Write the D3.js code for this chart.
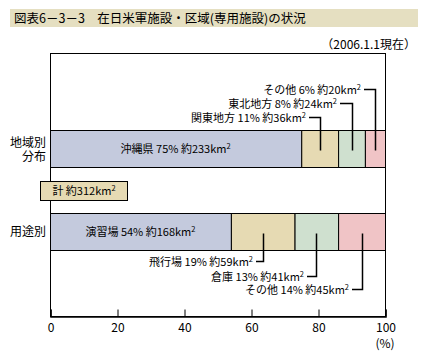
<!DOCTYPE html>
<html>
<head>
<meta charset="utf-8">
<script src="https://cdn.jsdelivr.net/npm/d3@7"></script>
<style>
  body { margin: 0; background: #fff; }
  text { font-family: "Noto Sans CJK JP", sans-serif; fill: #000; }
</style>
</head>
<body>
<div id="chart"></div>
<script>
const rows = ['地域別', '用途別']
const regionNames = ['沖縄県', '関東地方', '東北地方', 'その他']
const regionPct = [75, 11, 8, 6]
const regionArea = [233, 36, 24, 20]
const useNames = ['演習場', '飛行場', '倉庫', 'その他']
const usePct = [54, 19, 13, 14]
const useArea = [168, 59, 41, 45]
const ticks = [0, 20, 40, 60, 80, 100]
const colors = ['#c4cadd', '#e6dab3', '#cfe0cf', '#f0c4c6']

const width = 428
const height = 358

const svg = d3
  .select('#chart')
  .append('svg')
  .attr('width', width)
  .attr('height', height)

// title bar
svg.append('rect')
  .attr('x', 10).attr('y', 9)
  .attr('width', 408).attr('height', 18)
  .attr('fill', '#e5dfc1')
svg.append('text')
  .attr('x', 14).attr('y', 23)
  .attr('font-size', 12.5)
  .text('図表6－3－3　在日米軍施設・区域(専用施設)の状況')

svg.append('text')
  .attr('x', 416).attr('y', 49)
  .attr('text-anchor', 'end')
  .attr('font-size', 12)
  .text('（2006.1.1現在）')

const x = d3.scaleLinear().domain([0, 100]).range([50, 385])
const y = d3.scaleOrdinal().domain(rows).range([130, 213])
const barH = 37

// frame
svg.append('rect')
  .attr('x', x(0) + 0.5).attr('y', 53.5)
  .attr('width', x(100) - x(0)).attr('height', 316 - 53)
  .attr('fill', 'none')
  .attr('stroke', '#000')

function stack(pcts) {
  let acc = 0
  return pcts.map(p => {
    const s = { x0: acc, x1: acc + p }
    acc += p
    return s
  })
}

const sup = (sel, str) => {
  sel.append('tspan').text(str)
  sel.append('tspan').attr('font-size', 7.5).attr('dy', -4).text('2')
}

function drawBar(row, names, pcts, areas, leaders) {
  const segs = stack(pcts)
  const top = y(row)
  svg.append('g')
    .selectAll('rect')
    .data(segs)
    .enter()
    .append('rect')
    .attr('x', d => x(d.x0) + 0.5)
    .attr('y', top + 0.5)
    .attr('width', d => x(d.x1) - x(d.x0))
    .attr('height', barH)
    .attr('fill', (d, i) => colors[i])
    .attr('stroke', '#000')

  // first segment label inside the bar
  const t0 = svg.append('text')
    .attr('x', (x(segs[0].x0) + x(segs[0].x1)) / 2)
    .attr('y', top + barH / 2 + 4)
    .attr('text-anchor', 'middle')
    .attr('font-size', 11)
  sup(t0, `${names[0]} ${pcts[0]}% 約${areas[0]}km`)

  // leader labels for the rest
  segs.slice(1).forEach((s, k) => {
    const i = k + 1
    const cx = Math.round((x(s.x0) + x(s.x1)) / 2) + 0.5
    const ly = leaders.y[k]
    const tx = leaders.endX[k]
    svg.append('path')
      .attr('d', `M${tx},${ly}H${cx}V${top + barH / 2 + 2}`)
      .attr('fill', 'none')
      .attr('stroke', '#000')
      .attr('stroke-width', 1.5)
    const t = svg.append('text')
      .attr('x', tx - 3)
      .attr('y', ly + 4)
      .attr('text-anchor', 'end')
      .attr('font-size', 11)
    sup(t, `${names[i]} ${pcts[i]}% 約${areas[i]}km`)
  })
}

drawBar('地域別', regionNames, regionPct, regionArea,
  { y: [117.5, 103.5, 89.5], endX: [309, 340, 364] })

drawBar('用途別', useNames, usePct, useArea,
  { y: [261.5, 276.5, 289.5], endX: [256, 307, 352] })

// row labels
svg.append('text').attr('x', 46).attr('y', 147).attr('text-anchor', 'end')
  .attr('font-size', 12).text('地域別')
svg.append('text').attr('x', 46).attr('y', 161).attr('text-anchor', 'end')
  .attr('font-size', 12).text('分布')
svg.append('text').attr('x', 46).attr('y', 236).attr('text-anchor', 'end')
  .attr('font-size', 12).text('用途別')

// total box
svg.append('rect')
  .attr('x', 40.5).attr('y', 181.5)
  .attr('width', 87).attr('height', 19)
  .attr('fill', colors[1])
  .attr('stroke', '#000')
const tt = svg.append('text')
  .attr('x', 84).attr('y', 195)
  .attr('text-anchor', 'middle')
  .attr('font-size', 11)
sup(tt, '計 約312km')

// axis
const axis = d3.axisBottom(x).tickValues(ticks).tickSize(-7).tickPadding(7)
const ax = svg.append('g')
  .attr('transform', 'translate(0.5,316.5)')
  .call(axis)
ax.select('.domain').attr('stroke', '#000').attr('stroke-width', 1.5)
ax.selectAll('.tick line').attr('stroke', '#000')
ax.selectAll('.tick text')
  .attr('font-size', 12)
  .attr('font-family', '"Noto Sans CJK JP", sans-serif')
  .attr('fill', '#000')

svg.append('text')
  .attr('x', x(100)).attr('y', 348)
  .attr('text-anchor', 'middle')
  .attr('font-size', 12)
  .text('(%)')
</script>
</body>
</html>
